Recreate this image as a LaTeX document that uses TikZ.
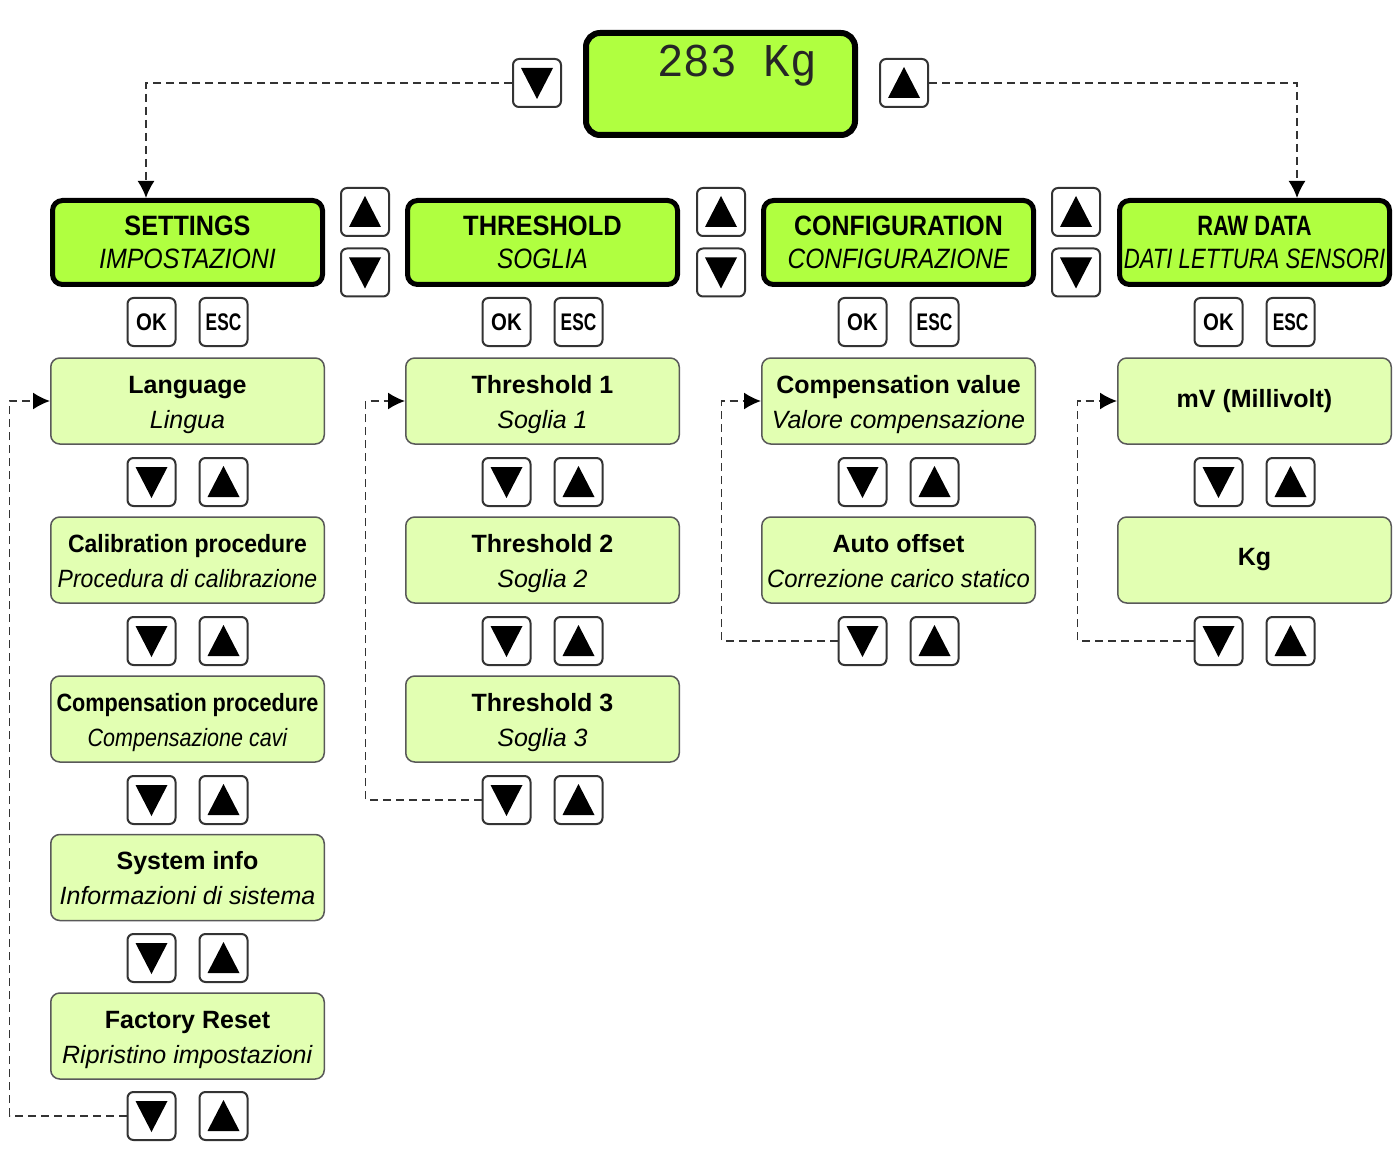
\documentclass[tikz,border=0pt]{standalone}
\usepackage{fontspec}
\setmainfont{Liberation Sans}
\newfontfamily\lcdfont{Liberation Mono}
\usetikzlibrary{arrows.meta}
\definecolor{hdr}{RGB}{176,255,64}
\definecolor{itm}{RGB}{226,255,178}
\newcommand\hx[2]{\scalebox{#1}[1]{#2}}
\newcommand\twol[2]{\raisebox{-2.5pt}[\height][\depth]{\begin{tabular}{@{}c@{}}#1\\#2\end{tabular}}}
\begin{document}
\begin{tikzpicture}[x=1pt,y=-1pt,
  btn/.style={draw=black!80, line width=2pt, fill=white, rounded corners=6pt,
    minimum width=48pt, minimum height=48pt, inner sep=0pt,
    font=\fontsize{24}{24}\selectfont\bfseries},
  upb/.style={btn, path picture={\fill[black,sharp corners]
    ([shift={(-16pt,-15pt)}]path picture bounding box.center) -- ++(32pt,0pt) -- ++(-16pt,31pt) -- cycle;}},
  dnb/.style={btn, path picture={\fill[black,sharp corners]
    ([shift={(-16pt,15pt)}]path picture bounding box.center) -- ++(32pt,0pt) -- ++(-16pt,-31pt) -- cycle;}},
  hdrbox/.style={draw=black, line width=5pt, fill=hdr, rounded corners=10pt,
    minimum width=270pt, minimum height=84pt, inner sep=0pt, align=center,
    font=\fontsize{28}{33}\selectfont},
  itembox/.style={draw=black!65, line width=1.5pt, fill=itm, rounded corners=9pt,
    minimum width=273.5pt, minimum height=86pt, inner sep=0pt,
    font=\fontsize{25}{35}\selectfont},
  lcdbox/.style={draw=black, line width=6pt, fill=hdr, rounded corners=14pt,
    minimum width=269pt, minimum height=102pt, inner sep=0pt},
  flowdash/.style={draw=black!80, line width=1.8pt, dash pattern=on 8pt off 5pt,
    -{Latex[length=17pt,width=17pt,black]}}
]
\fill[white] (0,0) rectangle (1396,1155);
\useasboundingbox (0,0) rectangle (1396,1155);

% display
\node[lcdbox] (lcd) at (720.5,84) {};
\node[anchor=base, font=\fontsize{47}{47}\lcdfont, text=black!85] (val) at (737,77) {\hx{0.94}{283 Kg}};
\node[dnb] (tdn) at (537,83) {};
\node[upb] (tup) at (904,83) {};

% headers
\node[hdrbox] (sh) at (187.5,242.5) {\hx{0.9}{\bfseries SETTINGS}\\\hx{0.89}{\itshape IMPOSTAZIONI}};
\node[hdrbox] (th) at (542.5,242.5) {\hx{0.91}{\bfseries THRESHOLD}\\\hx{0.87}{\itshape SOGLIA}};
\node[hdrbox] (ch) at (898.5,242.5) {\hx{0.89}{\bfseries CONFIGURATION}\\\hx{0.875}{\itshape CONFIGURAZIONE}};
\node[hdrbox] (rh) at (1254.5,242.5) {\hx{0.78}{\bfseries RAW DATA}\\\hx{0.79}{\itshape DATI LETTURA SENSORI}};

% side up/down buttons
\node[upb] (b1u) at (365,212) {};
\node[dnb] (b1d) at (365,272.5) {};
\node[upb] (b2u) at (721,212) {};
\node[dnb] (b2d) at (721,272.5) {};
\node[upb] (b3u) at (1076,212) {};
\node[dnb] (b3d) at (1076,272.5) {};

% OK / ESC
\node[btn] (sok) at (151.5,322) {\hx{0.85}{OK}};
\node[btn] (sesc) at (223.5,322) {\hx{0.72}{ESC}};
\node[btn] (tok) at (506.5,322) {\hx{0.85}{OK}};
\node[btn] (tesc) at (578.5,322) {\hx{0.72}{ESC}};
\node[btn] (cok) at (862.5,322) {\hx{0.85}{OK}};
\node[btn] (cesc) at (934.5,322) {\hx{0.72}{ESC}};
\node[btn] (rok) at (1218.5,322) {\hx{0.85}{OK}};
\node[btn] (resc) at (1290.5,322) {\hx{0.72}{ESC}};

% settings column
\node[itembox] (s1) at (187.5,401) {\twol{\textbf{Language}}{\textit{Lingua}}};
\node[dnb] (s1d) at (151.5,482) {};
\node[upb] (s1u) at (223.5,482) {};
\node[itembox] (s2) at (187.5,560) {\twol{\hx{0.92}{\bfseries Calibration procedure}}{\hx{0.92}{\itshape Procedura di calibrazione}}};
\node[dnb] (s2d) at (151.5,641) {};
\node[upb] (s2u) at (223.5,641) {};
\node[itembox] (s3) at (187.5,719) {\twol{\hx{0.865}{\bfseries Compensation procedure}}{\hx{0.86}{\itshape Compensazione cavi}}};
\node[dnb] (s3d) at (151.5,800) {};
\node[upb] (s3u) at (223.5,800) {};
\node[itembox] (s4) at (187.5,877.5) {\twol{\textbf{System info}}{\textit{Informazioni di sistema}}};
\node[dnb] (s4d) at (151.5,958) {};
\node[upb] (s4u) at (223.5,958) {};
\node[itembox] (s5) at (187.5,1036) {\twol{\textbf{Factory Reset}}{\textit{Ripristino impostazioni}}};
\node[dnb] (s5d) at (151.5,1116) {};
\node[upb] (s5u) at (223.5,1116) {};

% threshold column
\node[itembox] (t1) at (542.5,401) {\twol{\textbf{Threshold 1}}{\textit{Soglia 1}}};
\node[dnb] (t1d) at (506.5,482) {};
\node[upb] (t1u) at (578.5,482) {};
\node[itembox] (t2) at (542.5,560) {\twol{\textbf{Threshold 2}}{\textit{Soglia 2}}};
\node[dnb] (t2d) at (506.5,641) {};
\node[upb] (t2u) at (578.5,641) {};
\node[itembox] (t3) at (542.5,719) {\twol{\textbf{Threshold 3}}{\textit{Soglia 3}}};
\node[dnb] (t3d) at (506.5,800) {};
\node[upb] (t3u) at (578.5,800) {};

% configuration column
\node[itembox] (c1) at (898.5,401) {\twol{\textbf{Compensation value}}{\textit{Valore compensazione}}};
\node[dnb] (c1d) at (862.5,482) {};
\node[upb] (c1u) at (934.5,482) {};
\node[itembox] (c2) at (898.5,560) {\twol{\textbf{Auto offset}}{\hx{0.955}{\itshape Correzione carico statico}}};
\node[dnb] (c2d) at (862.5,641) {};
\node[upb] (c2u) at (934.5,641) {};

% raw data column
\node[itembox] (r1) at (1254.5,401) {\textbf{mV (Millivolt)}};
\node[dnb] (r1d) at (1218.5,482) {};
\node[upb] (r1u) at (1290.5,482) {};
\node[itembox] (r2) at (1254.5,560) {\textbf{Kg}};
\node[dnb] (r2d) at (1218.5,641) {};
\node[upb] (r2u) at (1290.5,641) {};

% connectors
\draw[flowdash] (tdn.west) -| ([xshift=-41.5pt]sh.north);
\draw[flowdash] (tup.east) -| ([xshift=42.5pt]rh.north);
\draw[flowdash] (s5d.west) -- ++(-117,0) |- (s1.west);
\draw[flowdash] (t3d.west) -- ++(-116,0) |- (t1.west);
\draw[flowdash] (c2d.west) -- ++(-116,0) |- (c1.west);
\draw[flowdash] (r2d.west) -- ++(-116,0) |- (r1.west);
\end{tikzpicture}
\end{document}
